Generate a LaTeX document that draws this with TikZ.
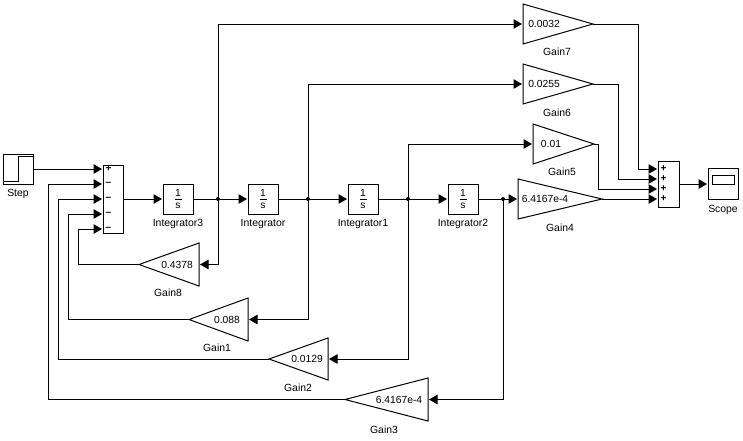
\documentclass[tikz,border=0pt]{standalone}
\usepackage{fontspec}
\setmainfont{Liberation Sans}
\usetikzlibrary{arrows.meta}
\tikzset{
  wire/.style={line width=1pt,-{Triangle[length=8.5pt,width=9.5pt]},shorten >=1pt},
  block/.style={draw,line width=1pt,inner sep=0pt,outer sep=0pt,minimum width=30pt,minimum height=30pt},
  tri/.style={draw,line width=1pt,line join=miter},
  lab/.style={font=\fontsize{10.4}{12}\selectfont,inner sep=0pt,text height=7.2pt,text depth=0pt},
  val/.style={font=\fontsize{10.3}{12}\selectfont,inner sep=0pt},
  dot/.style={circle,fill=black,inner sep=0pt,minimum size=4pt},
  sign/.style={font=\fontsize{10}{12}\selectfont\bfseries,inner sep=0pt}
}
% name, x of tip, x of base, top y, bottom y, value, value x, caption x, caption y
\newcommand{\gainblock}[9]{%
  \coordinate (#1tip) at (#2,{(#4+#5)/2});
  \coordinate (#1base) at (#3,{(#4+#5)/2});
  \draw[tri] (#2,{(#4+#5)/2}) -- (#3,#4) -- (#3,#5) -- cycle;
  \node[val] (#1val) at (#7,{(#4+#5)/2}) {#6};
  \node[lab] (#1cap) at (#8,#9) {\csname gcap#1\endcsname};
}
\newcommand{\integblock}[3]{%
  \node[block] (#1) at (#2,199) {};
  \node[val] (#1n) at (#2,193) {1};
  \node[val] (#1d) at (#2,205.5) {s};
  \draw[line width=1pt] (#2-3.5,199) -- (#2+3.5,199);
  \node[lab] (#1cap) at (#2,223) {#3};
}
\newcommand{\gcapgs}{Gain8}\newcommand{\gcapga}{Gain1}\newcommand{\gcapgb}{Gain2}\newcommand{\gcapgc}{Gain3}
\newcommand{\gcapgd}{Gain4}\newcommand{\gcapge}{Gain5}\newcommand{\gcapgf}{Gain6}\newcommand{\gcapgg}{Gain7}
\begin{document}
\begin{tikzpicture}[x=1pt,y=-1pt]
\useasboundingbox (0,0) rectangle (743,440);
\fill[white] (0,0) rectangle (743,440);
% Step
\node[block] (step) at (18,169) {};
\draw[line width=1pt] (3,181) -- (18.5,181) -- (18.5,156.5) -- (33,156.5);
\node[lab] (stepcap) at (18,193) {Step};
% Sum 1
\node[block,minimum width=20pt,minimum height=68pt] (suma) at (113,199) {};
\foreach \n/\y/\s in {a/169/+,b/184/–,c/199/–,d/214/–,e/229/–}{
  \coordinate (sa\n) at (103,\y);
  \node[sign] (sas\n) at (108.5,\y) {\s};
}
% Integrators
\integblock{ic}{178}{Integrator3}
\integblock{i}{263}{Integrator}
\integblock{ia}{363}{Integrator1}
\integblock{ib}{463}{Integrator2}
% Gains
\gainblock{gs}{139}{199}{243}{286}{0.4378}{177}{168}{293}
\gainblock{ga}{189}{248}{298}{341}{0.088}{227}{217}{348}
\gainblock{gb}{269}{328}{338}{380}{0.0129}{307}{298}{388}
\gainblock{gc}{345}{428}{378}{421}{6.4167e-4}{399}{384}{430}
\gainblock{gg}{593}{523}{4}{44}{0.0032}{544}{557}{52}
\gainblock{gf}{593}{523}{64}{104}{0.0255}{544}{557}{113}
\gainblock{ge}{594}{533}{124}{164}{0.01}{551}{562}{172}
\gainblock{gd}{602}{518}{179}{219}{6.4167e-4}{545}{560}{228}
% Sum 2
\node[block,minimum width=21pt,minimum height=46pt] (sumb) at (668.5,184) {};
\foreach \n/\y in {a/169,b/179,c/189,d/199}{
  \coordinate (sb\n) at (658,\y);
  \node[sign] (sbs\n) at (663.5,\y) {+};
}
% Scope
\node[block,minimum width=30pt,minimum height=31pt] (scope) at (723,183.5) {};
\draw[line width=1pt] (712,175) rectangle (734,184);
\node[lab] (scopecap) at (723,209) {Scope};
% Junctions
\coordinate (ja) at (218,199);
\coordinate (jb) at (308,199);
\coordinate (jc) at (408,199);
\coordinate (jd) at (503,199);
% Forward path
\draw[wire] (step.east) -- (saa);
\draw[wire] (suma.east) -- (ic.west);
\draw[wire] (ic.east) -- (i.west);
\draw[wire] (i.east) -- (ia.west);
\draw[wire] (ia.east) -- (ib.west);
\draw[wire] (ib.east) -- (gdbase);
% Feedback
\draw[wire] (ja) |- (gsbase);
\draw[wire] (jb) |- (gabase);
\draw[wire] (jc) |- (gbbase);
\draw[wire] (jd) |- (gcbase);
\draw[wire] (gstip) -| (78,229) -- (sae);
\draw[wire] (gatip) -| (68,214) -- (sad);
\draw[wire] (gbtip) -| (58,199) -- (sac);
\draw[wire] (gctip) -| (48,184) -- (sab);
% Feedforward
\draw[wire] (ja) |- (ggbase);
\draw[wire] (jb) |- (gfbase);
\draw[wire] (jc) |- (gebase);
\draw[wire] (ggtip) -| (638,169) -- (sba);
\draw[wire] (gftip) -| (618,179) -- (sbb);
\draw[wire] (getip) -| (598,189) -- (sbc);
\draw[wire] (gdtip) -- (sbd);
\draw[wire] (sumb.east) -- (scope.west |- sumb.east);
% Junction dots
\fill (ja) circle (2pt);
\fill (jb) circle (2pt);
\fill (jc) circle (2pt);
\fill (jd) circle (2pt);
\end{tikzpicture}
\end{document}
